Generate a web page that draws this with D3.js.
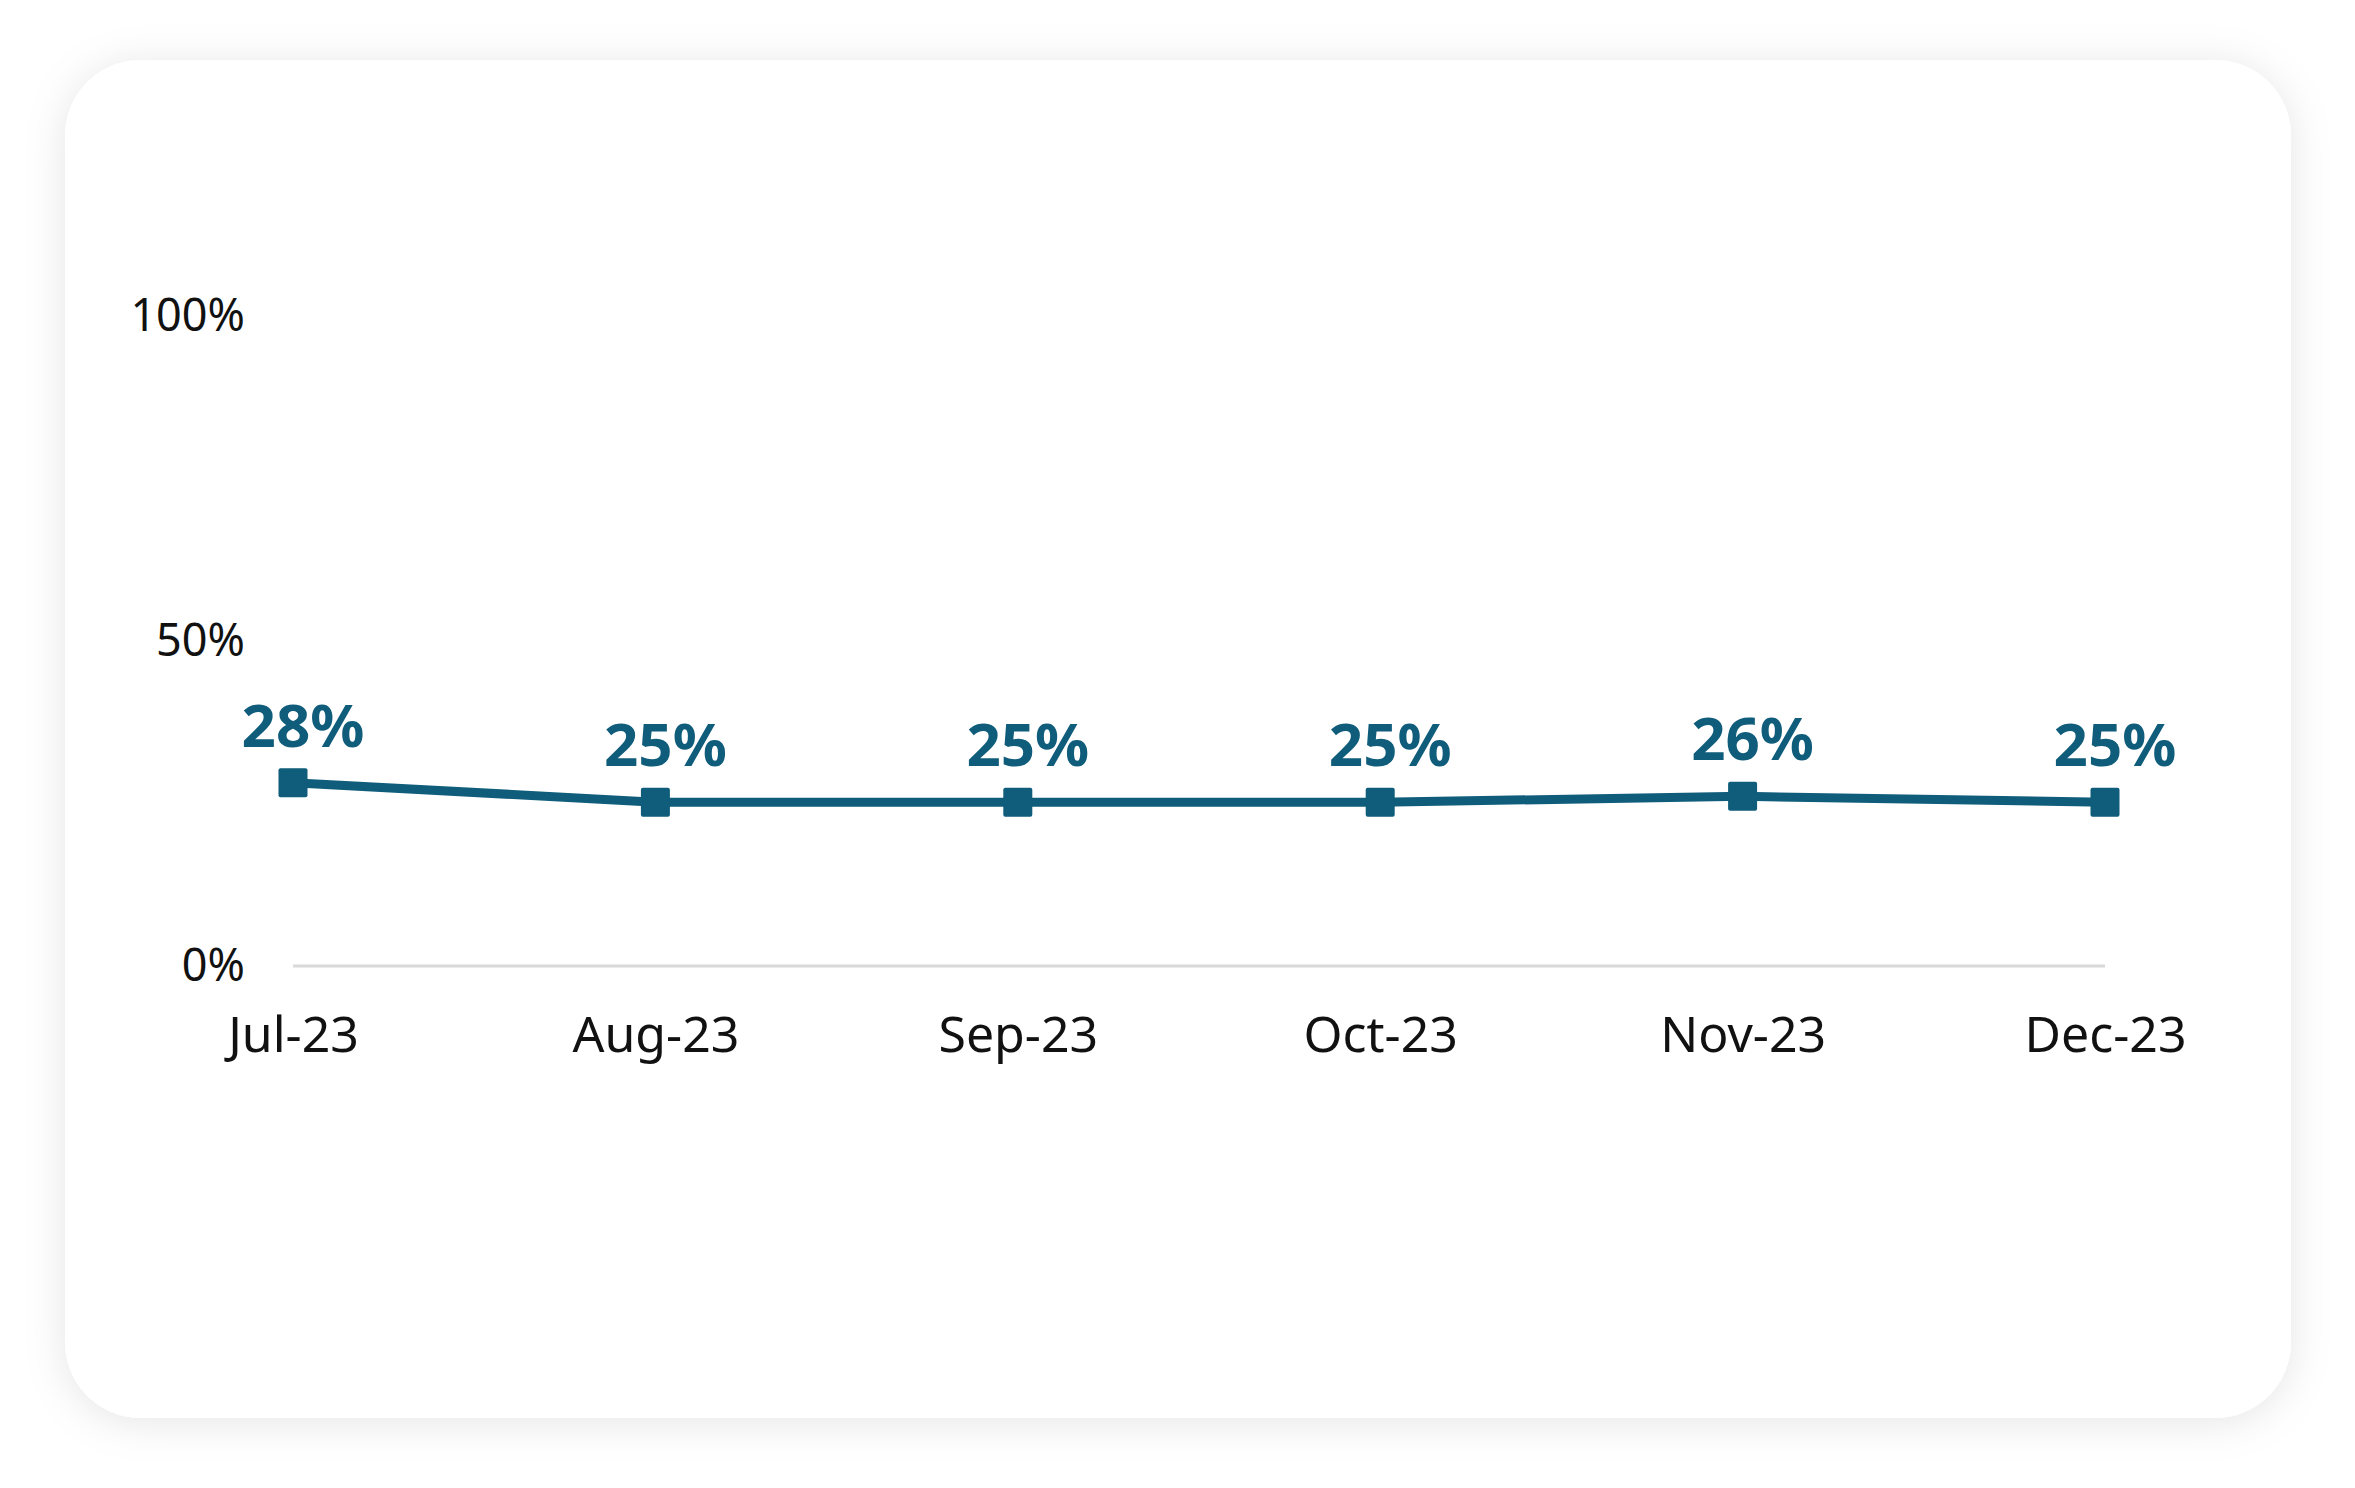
<!DOCTYPE html>
<html>
<head>
<meta charset="utf-8">
<script src="https://cdn.jsdelivr.net/npm/d3@7"></script>
<style>
  html, body { margin: 0; padding: 0; background: #ffffff; }
  svg { display: block; }
</style>
</head>
<body>
<div id="wrapper"></div>
<script>
// data
const months = ["Jul-23", "Aug-23", "Sep-23", "Oct-23", "Nov-23", "Dec-23"]
const shares = [28.2, 25.2, 25.2, 25.2, 26.1, 25.2]
const yTicks = [0, 50, 100]

const teal = "#0f5c7b"
const fontFamily = "'Noto Sans', 'Open Sans', sans-serif"

function drawLine() {
  const dimensions = {
    width: 2355,
    height: 1488,
    card: { x: 65, y: 60, w: 2226, h: 1358, r: 76 },
    plot: { left: 293, right: 2105, top: 316, bottom: 966 },
  }

  const svg = d3.select("#wrapper")
    .append("svg")
    .attr("width", dimensions.width)
    .attr("height", dimensions.height)

  // card with soft shadow
  const defs = svg.append("defs")
  const shadow = defs.append("filter")
    .attr("id", "shadow")
    .attr("x", "-10%").attr("y", "-10%")
    .attr("width", "120%").attr("height", "120%")
  shadow.append("feDropShadow")
    .attr("dx", 0)
    .attr("dy", 4)
    .attr("stdDeviation", 20)
    .attr("flood-color", "#000")
    .attr("flood-opacity", 0.10)

  svg.append("rect")
    .attr("x", dimensions.card.x)
    .attr("y", dimensions.card.y)
    .attr("width", dimensions.card.w)
    .attr("height", dimensions.card.h)
    .attr("rx", dimensions.card.r)
    .attr("fill", "#ffffff")
    .attr("filter", "url(#shadow)")

  // scales
  const xScale = d3.scalePoint()
    .domain(months)
    .range([dimensions.plot.left, dimensions.plot.right])

  const yScale = d3.scaleLinear()
    .domain([0, 100])
    .range([dimensions.plot.bottom, dimensions.plot.top])

  const data = months.map((m, i) => ({ month: m, value: shares[i] }))

  // baseline gridline
  svg.append("line")
    .attr("x1", xScale(months[0]))
    .attr("x2", xScale(months[months.length - 1]))
    .attr("y1", yScale(0))
    .attr("y2", yScale(0))
    .attr("stroke", "#d9d9d9")
    .attr("stroke-width", 3)

  // y axis
  const yAxis = svg.append("g")
    .attr("transform", `translate(${dimensions.plot.left},0)`)
    .call(d3.axisLeft(yScale)
      .tickValues(yTicks)
      .tickSize(0)
      .tickPadding(48)
      .tickFormat(d => d + "%"))
  yAxis.select(".domain").remove()
  yAxis.selectAll("text")
    .attr("fill", "#111")
    .style("font-family", fontFamily)
    .style("font-size", "45px")

  // x axis
  const xAxis = svg.append("g")
    .attr("transform", `translate(0,${yScale(0)})`)
    .call(d3.axisBottom(xScale)
      .tickSize(0)
      .tickPadding(50))
  xAxis.select(".domain").remove()
  xAxis.selectAll("text")
    .attr("fill", "#111")
    .style("font-family", fontFamily)
    .style("font-size", "50px")

  // line
  const lineGenerator = d3.line()
    .x(d => xScale(d.month))
    .y(d => yScale(d.value))

  svg.append("path")
    .datum(data)
    .attr("d", lineGenerator)
    .attr("fill", "none")
    .attr("stroke", teal)
    .attr("stroke-width", 9)
    .attr("stroke-linejoin", "round")

  // square markers
  const size = 29
  svg.selectAll(".marker")
    .data(data)
    .join("rect")
    .attr("class", "marker")
    .attr("x", d => xScale(d.month) - size / 2)
    .attr("y", d => yScale(d.value) - size / 2)
    .attr("width", size)
    .attr("height", size)
    .attr("rx", 2)
    .attr("fill", teal)

  // value labels
  svg.selectAll(".value-label")
    .data(data)
    .join("text")
    .attr("class", "value-label")
    .attr("x", d => xScale(d.month) + 10)
    .attr("y", d => yScale(d.value) - 36)
    .attr("text-anchor", "middle")
    .attr("fill", teal)
    .style("font-family", fontFamily)
    .style("font-weight", 700)
    .style("font-size", "60px")
    .text(d => Math.round(d.value) + "%")
}
drawLine()
</script>
</body>
</html>
